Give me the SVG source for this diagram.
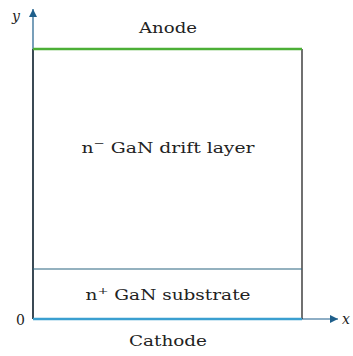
<svg xmlns="http://www.w3.org/2000/svg" width="353" height="356" viewBox="0 0 353 356">
<style>
text{font-family:"DejaVu Serif","Liberation Serif",serif;font-size:14px;fill:#222}
.c{text-anchor:middle}
.i{font-style:italic}
.ax{stroke:#1f5f8b;stroke-width:1.2;fill:none}
</style>
<defs>
<marker id="ah" viewBox="0 0 10 10" refX="10" refY="5" markerWidth="8" markerHeight="8" markerUnits="userSpaceOnUse" orient="auto">
<path d="M0,0 L10,5 L0,10 z" fill="#1f5f8b"/>
</marker>
</defs>
<rect width="353" height="356" fill="#fff"/>
<g id="connectors">
<line class="ax" x1="33" y1="319" x2="33" y2="9" marker-end="url(#ah)"/>
<line class="ax" x1="33" y1="319" x2="338" y2="319" marker-end="url(#ah)"/>
</g>
<g id="drift">
<line x1="33" y1="49" x2="33" y2="269" stroke="#111" stroke-width="1.2"/>
<line x1="302" y1="49" x2="302" y2="269" stroke="#111" stroke-width="1.2"/>
<text class="c" x="168" y="153" textLength="173" lengthAdjust="spacingAndGlyphs">n<tspan dy="-6" font-size="10">−</tspan><tspan dy="6"> GaN drift layer</tspan></text>
</g>
<g id="substrate">
<line x1="33" y1="269" x2="33" y2="319" stroke="#111" stroke-width="1.2"/>
<line x1="302" y1="269" x2="302" y2="319" stroke="#111" stroke-width="1.2"/>
<line x1="33" y1="269" x2="302" y2="269" stroke="#2a6480" stroke-width="1.2"/>
<text class="c" x="168" y="300" textLength="165" lengthAdjust="spacingAndGlyphs">n<tspan dy="-6" font-size="10">+</tspan><tspan dy="6"> GaN substrate</tspan></text>
</g>
<g id="anode">
<line x1="33" y1="49" x2="302" y2="49" stroke="#4caf36" stroke-width="2.4"/>
<text class="c" x="168" y="33" textLength="58" lengthAdjust="spacingAndGlyphs">Anode</text>
</g>
<g id="cathode">
<line x1="33" y1="319" x2="302" y2="319" stroke="#3a9fd0" stroke-width="2.4"/>
<text class="c" x="168" y="346" textLength="78" lengthAdjust="spacingAndGlyphs">Cathode</text>
</g>
<text x="12" y="21" class="i" font-size="16">y</text>
<text x="342" y="324" class="i" font-size="16">x</text>
<text x="16" y="325">0</text>
</svg>
